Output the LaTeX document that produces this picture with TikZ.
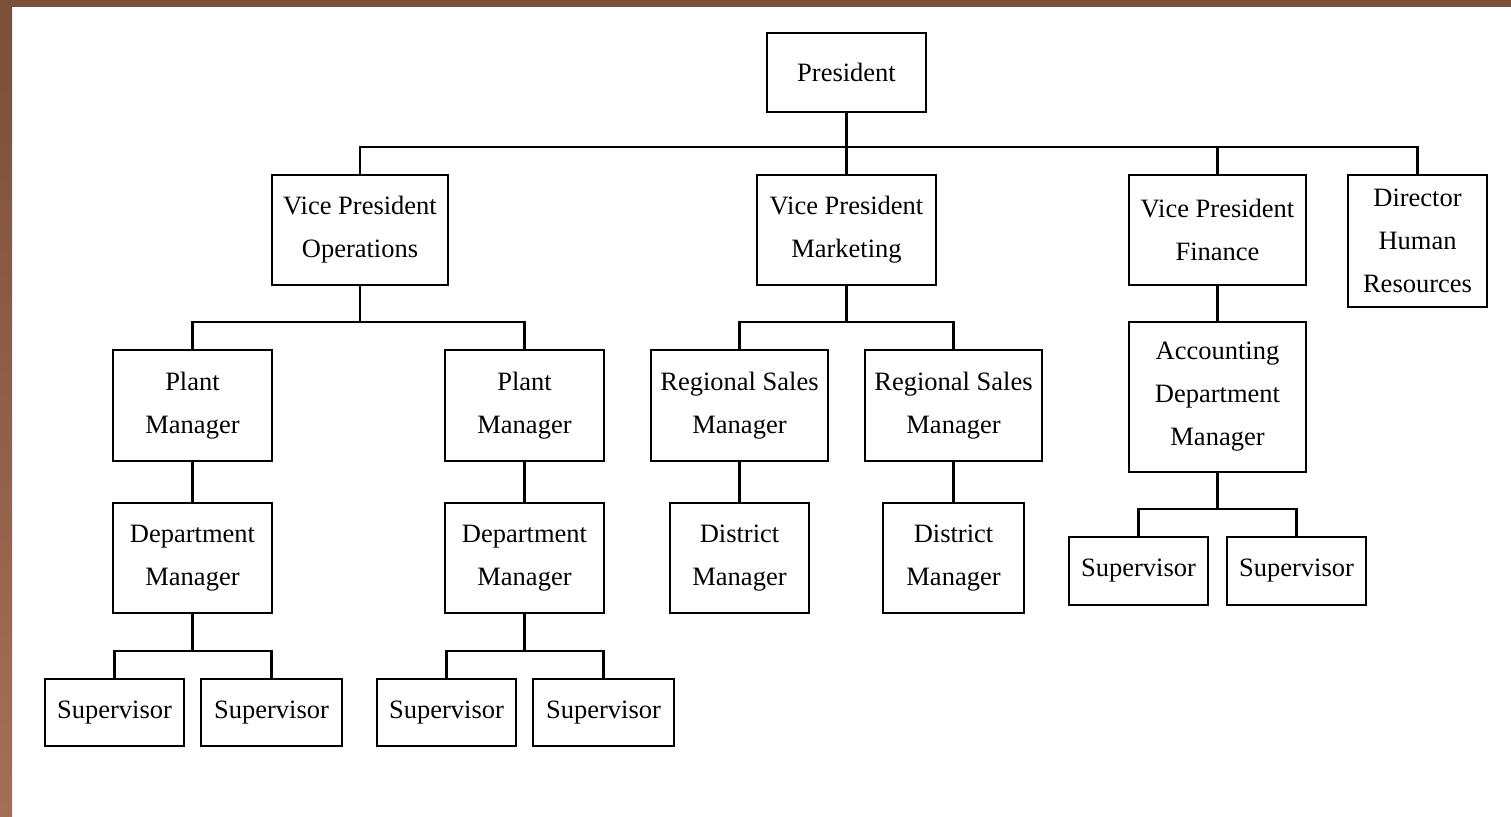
\documentclass[tikz,border=0pt]{standalone}
\usepackage{fontspec}
\setmainfont{Liberation Serif}
\definecolor{bordtop}{RGB}{123,79,58}
\definecolor{bordbot}{RGB}{166,110,88}
\begin{document}
\begin{tikzpicture}[x=1pt,y=-1pt,
  box/.style={draw=black, line width=2.4pt, fill=white, inner sep=0pt, outer sep=0pt, align=center,
    font=\fontsize{26.5}{43}\selectfont},
  link/.style={draw=black, line width=2.4pt}]
\useasboundingbox (0,0) rectangle (1511,816);
\fill[white] (0,0) rectangle (1511,816);
\shade[top color=bordtop, bottom color=bordbot] (0,0) rectangle (12,816);
\fill[bordtop] (0,0) rectangle (1511,7);

% level 0
\node[box, minimum width=159, minimum height=79] (pres) at (846.5,72.5) {President};
% level 1
\node[box, minimum width=176, minimum height=110] (vpo) at (360,230) {Vice President\\Operations};
\node[box, minimum width=179, minimum height=110] (vpm) at (846.5,230) {Vice President\\Marketing};
\node[box, minimum width=177, minimum height=110] (vpf) at (1217.5,230) {Vice President\\Finance};
\node[box, minimum width=139, minimum height=132] (hr) at (1417.5,241) {Director\\Human\\Resources};
% level 2
\node[box, minimum width=159, minimum height=111] (pm1) at (192.5,405.5) {Plant\\Manager};
\node[box, minimum width=159, minimum height=111] (pm2) at (524.5,405.5) {Plant\\Manager};
\node[box, minimum width=177, minimum height=111] (rs1) at (739.5,405.5) {Regional Sales\\Manager};
\node[box, minimum width=177, minimum height=111] (rs2) at (953.5,405.5) {Regional Sales\\Manager};
\node[box, minimum width=177, minimum height=150] (acc) at (1217.5,397) {Accounting\\Department\\Manager};
% level 3
\node[box, minimum width=159, minimum height=110] (dm1) at (192.5,558) {Department\\Manager};
\node[box, minimum width=159, minimum height=110] (dm2) at (524.5,558) {Department\\Manager};
\node[box, minimum width=139, minimum height=110] (dim1) at (739.5,558) {District\\Manager};
\node[box, minimum width=141, minimum height=110] (dim2) at (953.5,558) {District\\Manager};
\node[box, minimum width=139, minimum height=68] (s5) at (1138.5,571) {Supervisor};
\node[box, minimum width=139, minimum height=68] (s6) at (1296.5,571) {Supervisor};
% level 4
\node[box, minimum width=139, minimum height=67] (s1) at (114.5,712.5) {Supervisor};
\node[box, minimum width=141, minimum height=67] (s2) at (271.5,712.5) {Supervisor};
\node[box, minimum width=139, minimum height=67] (s3) at (446.5,712.5) {Supervisor};
\node[box, minimum width=141, minimum height=67] (s4) at (603.5,712.5) {Supervisor};

% connectors
\draw[link] (pres.south) -- (vpm.north);
\draw[link] (vpo.north) -- ++(0,-28) -| (hr.north);
\draw[link] (vpf.north) -- ++(0,-28);

\draw[link] (vpo.south) -- ++(0,37);
\draw[link] (pm1.north) -- ++(0,-28) -| (pm2.north);
\draw[link] (vpm.south) -- ++(0,37);
\draw[link] (rs1.north) -- ++(0,-28) -| (rs2.north);
\draw[link] (vpf.south) -- (acc.north);

\draw[link] (pm1.south) -- (dm1.north);
\draw[link] (pm2.south) -- (dm2.north);
\draw[link] (rs1.south) -- (dim1.north);
\draw[link] (rs2.south) -- (dim2.north);

\draw[link] (acc.south) -- ++(0,37);
\draw[link] (s5.north) -- ++(0,-28) -| (s6.north);

\draw[link] (dm1.south) -- ++(0,38);
\draw[link] (s1.north) -- ++(0,-28) -| (s2.north);
\draw[link] (dm2.south) -- ++(0,38);
\draw[link] (s3.north) -- ++(0,-28) -| (s4.north);
\end{tikzpicture}
\end{document}
